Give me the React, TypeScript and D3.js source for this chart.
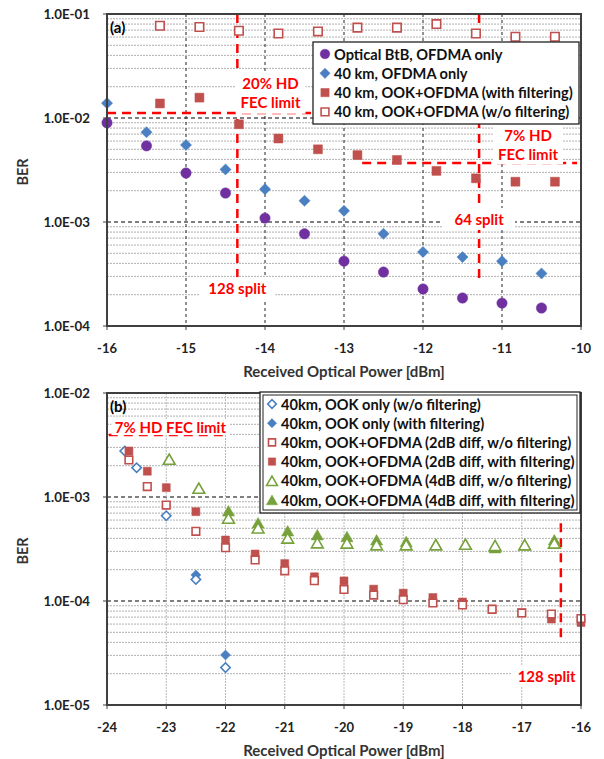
import React from 'react';
import * as d3 from 'd3';

// ---- panel (a) data ----
const powerA = [-16, -15.5, -15, -14.5, -14, -13.5, -13, -12.5, -12, -11.5, -11, -10.5];
const btbOfdmaBer = [9.0e-3, 5.4e-3, 2.96e-3, 1.9e-3, 1.09e-3, 7.7e-4, 4.2e-4, 3.3e-4, 2.27e-4, 1.86e-4, 1.66e-4, 1.49e-4];
const km40OfdmaBer = [1.39e-2, 7.3e-3, 5.5e-3, 3.2e-3, 2.07e-3, 1.6e-3, 1.28e-3, 7.7e-4, 5.15e-4, 4.6e-4, 4.2e-4, 3.2e-4];
const powerAOok = [-15.33, -14.83, -14.33, -13.83, -13.33, -12.83, -12.33, -11.83, -11.33, -10.83, -10.33];
const ookFiltBer = [1.38e-2, 1.57e-2, 8.7e-3, 6.35e-3, 5.0e-3, 4.4e-3, 3.95e-3, 3.1e-3, 2.63e-3, 2.44e-3, 2.44e-3];
const ookNoFiltBer = [7.7e-2, 7.5e-2, 6.9e-2, 6.5e-2, 6.8e-2, 7.4e-2, 7.4e-2, 8.0e-2, 6.5e-2, 6.05e-2, 6.05e-2];
const xTicksA = [-16, -15, -14, -13, -12, -11, -10];
const yTicksA = [1e-4, 1e-3, 1e-2, 1e-1];

// ---- panel (b) data ----
const powerOokOnly = [-23.7, -23.5, -23, -22.5, -22];
const ookOnlyNoFiltBer = [2.77e-3, 1.91e-3, 6.61e-4, 1.61e-4, 2.29e-5];
const powerOokOnlyFilt = [-22.5, -22];
const ookOnlyFiltBer = [1.78e-4, 3.03e-5];
const power2dB = [-23.63, -23.32, -23, -22.5, -22, -21.5, -21, -20.5, -20, -19.5, -19, -18.5, -18, -17.5, -17, -16.5, -16];
const diff2NoFiltBer = [2.27e-3, 1.26e-3, 8.37e-4, 4.68e-4, 3.25e-4, 2.48e-4, 1.95e-4, 1.57e-4, 1.29e-4, 1.14e-4, 1.03e-4, 9.57e-5, 9.16e-5, 8.32e-5, 7.67e-5, 7.5e-5, 6.79e-5];
const diff2FiltBer = [2.77e-3, 1.77e-3, 1.23e-3, 7.23e-4, 3.86e-4, 2.83e-4, 2.29e-4, 1.71e-4, 1.56e-4, 1.3e-4, 1.19e-4, 1.08e-4, 9.78e-5, 8.4e-5, 7.7e-5, 6.71e-5, 6.21e-5];
const power4dB = [-22.95, -22.45, -21.95, -21.45, -20.95, -20.45, -19.95, -19.45, -18.95, -18.45, -17.95, -17.45, -16.95, -16.45];
const diff4NoFiltBer = [2.3e-3, 1.21e-3, 6.24e-4, 5.03e-4, 4.01e-4, 3.61e-4, 3.59e-4, 3.46e-4, 3.46e-4, 3.46e-4, 3.5e-4, 3.4e-4, 3.46e-4, 3.59e-4];
const diff4FiltBer = [2.3e-3, 1.21e-3, 7.33e-4, 5.62e-4, 4.71e-4, 4.31e-4, 4.15e-4, 3.86e-4, 3.72e-4, 3.5e-4, 3.5e-4, 3.24e-4, 3.46e-4, 3.86e-4];
const xTicksB = [-24, -23, -22, -21, -20, -19, -18, -17, -16];
const yTicksB = [1e-5, 1e-4, 1e-3, 1e-2];

const PURPLE = '#7030a0';
const BLUE = '#4a7fc1';
const RED = '#c0504d';
const GREEN = '#77a13a';
const FEC_RED = '#ff0000';
const FONT = 'Lato, "Open Sans", sans-serif';

type Shape = 'circle' | 'diamond' | 'square' | 'triangle';
type Series = { label: string; x: number[]; y: number[]; shape: Shape; color: string; filled: boolean; size: number };

function symbolPath(shape: Shape, size: number) {
  const t = shape === 'circle' ? d3.symbolCircle : shape === 'triangle' ? d3.symbolTriangle : d3.symbolSquare;
  return d3.symbol().type(t).size(size)() as string;
}

function Marker({ s, cx, cy }: { s: Series; cx: number; cy: number }) {
  const rot = s.shape === 'diamond' ? ' rotate(45)' : '';
  const dy = s.shape === 'triangle' ? 1.5 : 0;
  return (
    <path
      d={symbolPath(s.shape, s.size)}
      transform={`translate(${cx},${cy + dy})${rot}`}
      fill={s.filled ? s.color : '#fff'}
      stroke={s.color}
      strokeWidth={s.filled ? 0.5 : 1.6}
    />
  );
}

const fmtE = (v: number) => {
  const e = Math.round(Math.log10(v));
  return `1.0E-${String(-e).padStart(2, '0')}`;
};

type Note = { lines: string[]; x: number; y: number; w: number; h: number };

function Panel(props: {
  top: number; tag: string; xDomain: [number, number]; yDomain: [number, number];
  xTicks: number[]; yTicks: number[]; series: Series[]; drawOrder: number[];
  vGridStyle: { stroke: string; dash: string };
  legend: { x: number; y: number; w: number; h: number; rowH: number; double: boolean };
  fecLines: { y: number; x0: number; x1: number }[];
  splitLines: { x: number; y0: number; y1: number }[];
  notes: Note[];
}) {
  const left = 107, right = 581, height = 312;
  const x = d3.scaleLinear().domain(props.xDomain).range([left, right]);
  const y = d3.scaleLog().domain(props.yDomain).range([props.top + height, props.top]);
  const minor: number[] = [];
  props.yTicks.slice(0, -1).forEach((d) => { for (let k = 2; k <= 9; k++) minor.push(d * k); });
  const bottom = props.top + height;
  const L = props.legend;
  return (
    <g fontFamily={FONT} fontWeight="bold">
      {minor.map((m) => (
        <line key={'m' + m} x1={left} x2={right} y1={y(m)} y2={y(m)} stroke="#b0b0b0" strokeWidth={1} strokeDasharray="2,1" />
      ))}
      {props.yTicks.slice(1, -1).map((t) => (
        <line key={'h' + t} x1={left} x2={right} y1={y(t)} y2={y(t)} stroke="#555" strokeWidth={1.3} strokeDasharray="4,3" />
      ))}
      {props.xTicks.slice(1, -1).map((t) => (
        <line key={'v' + t} x1={x(t)} x2={x(t)} y1={props.top} y2={bottom} stroke={props.vGridStyle.stroke} strokeWidth={1} strokeDasharray={props.vGridStyle.dash} />
      ))}
      {/* FEC / split annotations */}
      {props.fecLines.map((f, i) => (
        <line key={'f' + i} x1={x(f.x0)} x2={x(f.x1)} y1={y(f.y)} y2={y(f.y)} stroke={FEC_RED} strokeWidth={2.5} strokeDasharray="9,6" />
      ))}
      {props.splitLines.map((f, i) => (
        <line key={'s' + i} x1={x(f.x)} x2={x(f.x)} y1={y(f.y0)} y2={y(f.y1)} stroke={FEC_RED} strokeWidth={2.5} strokeDasharray="9,6" />
      ))}
      {props.notes.map((n, i) => (
        <g key={'n' + i}>
          <rect x={x(n.x) - n.w / 2} y={y(n.y) - n.h / 2} width={n.w} height={n.h} fill="#fff" />
          {n.lines.map((ln, j) => (
            <text key={j} x={x(n.x)} y={y(n.y) + (j - (n.lines.length - 1) / 2) * 19} textAnchor="middle" dominantBaseline="central" fill={FEC_RED} fontSize={15}>{ln}</text>
          ))}
        </g>
      ))}
      {/* data */}
      {props.drawOrder.map((si) => {
        const s = props.series[si];
        return s.x.map((xv, i) => <Marker key={si + '-' + i} s={s} cx={x(xv)} cy={y(s.y[i])} />);
      })}
      {/* frame */}
      <rect x={left} y={props.top} width={right - left} height={height} fill="none" stroke="#404040" strokeWidth={2} />
      {props.xTicks.map((t) => (
        <g key={'xt' + t}>
          <line x1={x(t)} x2={x(t)} y1={bottom} y2={bottom + 4} stroke="#404040" strokeWidth={1} />
          <text x={x(t)} y={bottom + 22} textAnchor="middle" dominantBaseline="central" fontSize={13} fill="#222">{t}</text>
        </g>
      ))}
      {props.yTicks.map((t) => (
        <g key={'yt' + t}>
          <line x1={left - 4} x2={left} y1={y(t)} y2={y(t)} stroke="#404040" strokeWidth={1} />
          <text x={90} y={y(t)} textAnchor="end" dominantBaseline="central" fontSize={13.3} fill="#222">{fmtE(t)}</text>
        </g>
      ))}
      <text x={344} y={bottom + 45} textAnchor="middle" dominantBaseline="central" fontSize={15} fill="#333">Received Optical Power [dBm]</text>
      <text transform={`translate(22,${props.top + height / 2 + 2}) rotate(-90)`} textAnchor="middle" dominantBaseline="central" fontSize={14.5} fill="#333">BER</text>
      <text x={left + 3} y={props.top + 13} dominantBaseline="central" fontSize={15} fill="#000">{props.tag}</text>
      {/* legend */}
      <rect x={L.x} y={L.y} width={L.w} height={L.h} fill="#fff" stroke="#222" strokeWidth={1.3} />
      {L.double && <rect x={L.x + 3} y={L.y + 3} width={L.w - 6} height={L.h - 6} fill="none" stroke="#222" strokeWidth={1} />}
      {props.series.map((s, i) => {
        const cy = L.y + 12 + i * L.rowH;
        return (
          <g key={'lg' + i}>
            <Marker s={{ ...s, size: s.size * 0.85 }} cx={L.x + 12} cy={cy} />
            <text x={L.x + 21} y={cy} dominantBaseline="central" fontSize={14.6} fill="#111">{s.label}</text>
          </g>
        );
      })}
    </g>
  );
}

const seriesA: Series[] = [
  { label: 'Optical BtB, OFDMA only', x: powerA, y: btbOfdmaBer, shape: 'circle', color: PURPLE, filled: true, size: 85 },
  { label: '40 km, OFDMA only', x: powerA, y: km40OfdmaBer, shape: 'diamond', color: BLUE, filled: true, size: 62 },
  { label: '40 km, OOK+OFDMA (with filtering)', x: powerAOok, y: ookFiltBer, shape: 'square', color: RED, filled: true, size: 80 },
  { label: '40 km, OOK+OFDMA (w/o filtering)', x: powerAOok, y: ookNoFiltBer, shape: 'square', color: RED, filled: false, size: 72 },
];

const seriesB: Series[] = [
  { label: '40km, OOK only (w/o filtering)', x: powerOokOnly, y: ookOnlyNoFiltBer, shape: 'diamond', color: BLUE, filled: false, size: 44 },
  { label: '40km, OOK only (with filtering)', x: powerOokOnlyFilt, y: ookOnlyFiltBer, shape: 'diamond', color: BLUE, filled: true, size: 50 },
  { label: '40km, OOK+OFDMA (2dB diff, w/o filtering)', x: power2dB, y: diff2NoFiltBer, shape: 'square', color: RED, filled: false, size: 58 },
  { label: '40km, OOK+OFDMA (2dB diff, with filtering)', x: power2dB, y: diff2FiltBer, shape: 'square', color: RED, filled: true, size: 64 },
  { label: '40km, OOK+OFDMA (4dB diff, w/o filtering)', x: power4dB, y: diff4NoFiltBer, shape: 'triangle', color: GREEN, filled: false, size: 60 },
  { label: '40km, OOK+OFDMA (4dB diff, with filtering)', x: power4dB, y: diff4FiltBer, shape: 'triangle', color: GREEN, filled: true, size: 64 },
];

export default function App() {
  return (
    <svg width={604} height={759} style={{ position: 'absolute', left: 0, top: 0, background: '#fff' }}>
      <Panel
        top={14}
        tag="(a)"
        xDomain={[-16, -10]}
        yDomain={[1e-4, 1e-1]}
        xTicks={xTicksA}
        yTicks={yTicksA}
        series={seriesA}
        drawOrder={[0, 1, 2, 3]}
        vGridStyle={{ stroke: '#222', dash: '3,3' }}
        legend={{ x: 313, y: 42, w: 266, h: 82, rowH: 19.3, double: false }}
        fecLines={[{ y: 1.12e-2, x0: -16, x1: -13.2 }, { y: 3.7e-3, x0: -12.77, x1: -10.05 }]}
        splitLines={[{ x: -14.35, y0: 1e-1, y1: 2.95e-4 }, { x: -11.29, y0: 1e-1, y1: 2.9e-4 }]}
        notes={[
          { lines: ['20% HD', 'FEC limit'], x: -13.93, y: 1.75e-2, w: 70, h: 42 },
          { lines: ['128 split'], x: -14.35, y: 2.3e-4, w: 76, h: 22 },
          { lines: ['64 split'], x: -11.29, y: 1.07e-3, w: 72, h: 22 },
          { lines: ['7% HD', 'FEC limit'], x: -10.67, y: 5.6e-3, w: 70, h: 40 },
        ]}
      />
      <Panel
        top={393}
        tag="(b)"
        xDomain={[-24, -16]}
        yDomain={[1e-5, 1e-2]}
        xTicks={xTicksB}
        yTicks={yTicksB}
        series={seriesB}
        drawOrder={[1, 0, 3, 2, 5, 4]}
        vGridStyle={{ stroke: '#b8b8b8', dash: '2,1' }}
        legend={{ x: 260, y: 392, w: 320, h: 121, rowH: 19.2, double: true }}
        fecLines={[{ y: 3.94e-3, x0: -23.97, x1: -21.95 }]}
        splitLines={[{ x: -16.34, y0: 5.6e-4, y1: 4e-5 }]}
        notes={[
          { lines: ['7% HD FEC limit'], x: -22.93, y: 4.7e-3, w: 118, h: 16 },
          { lines: ['128 split'], x: -16.58, y: 1.9e-5, w: 70, h: 22 },
        ]}
      />
    </svg>
  );
}
